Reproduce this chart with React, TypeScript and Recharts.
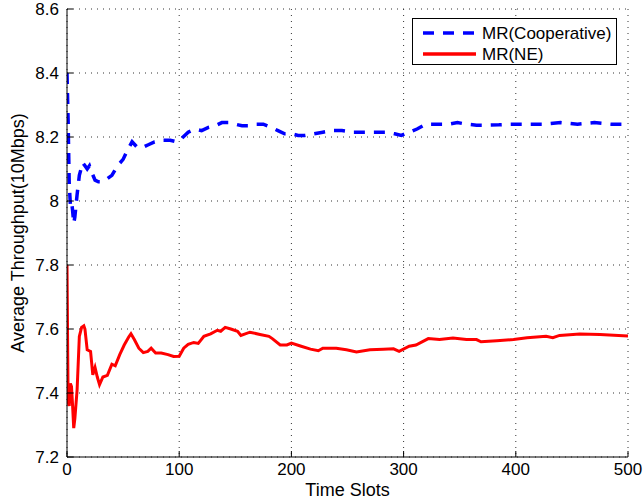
import React from 'react';
import { LineChart, Line, XAxis, YAxis, CartesianGrid } from 'recharts';

const coopTime = [0, 1, 2, 3, 4, 5, 6, 7, 9, 11, 14, 16, 18, 20, 22, 25, 28, 32, 36, 40, 45, 50, 54, 58, 62, 66, 72, 78, 85, 92, 98, 102, 108, 114, 120, 126, 132, 138, 144, 150, 156, 162, 168, 175, 182, 188, 194, 200, 206, 212, 220, 228, 236, 245, 255, 265, 275, 285, 292, 298, 305, 312, 320, 330, 340, 348, 356, 365, 375, 385, 395, 410, 425, 440, 455, 470, 485, 500];
const coopValue = [8.4, 8.25, 8.05, 7.99, 8.0, 7.97, 7.93, 7.95, 8.02, 8.08, 8.12, 8.11, 8.1, 8.11, 8.09, 8.065, 8.06, 8.06, 8.07, 8.08, 8.11, 8.13, 8.16, 8.185, 8.17, 8.165, 8.175, 8.185, 8.19, 8.19, 8.185, 8.195, 8.215, 8.225, 8.22, 8.23, 8.235, 8.245, 8.245, 8.24, 8.235, 8.235, 8.24, 8.24, 8.23, 8.22, 8.21, 8.21, 8.205, 8.205, 8.21, 8.215, 8.22, 8.22, 8.215, 8.215, 8.215, 8.215, 8.21, 8.205, 8.215, 8.225, 8.24, 8.24, 8.24, 8.245, 8.24, 8.237, 8.237, 8.238, 8.24, 8.24, 8.24, 8.245, 8.24, 8.245, 8.24, 8.24];

const neTime = [0, 1, 2, 3, 4, 5, 6, 7, 9, 11, 13, 15, 16, 18, 21, 23, 25, 27, 29, 32, 36, 40, 43, 47, 51, 55, 57, 60, 64, 68, 72, 75, 79, 84, 90, 95, 100, 104, 108, 113, 117, 122, 128, 134, 137, 141, 146, 152, 155, 163, 172, 180, 183, 190, 196, 200, 208, 217, 224, 228, 240, 249, 258, 270, 282, 291, 296, 305, 311, 322, 332, 344, 356, 365, 369, 383, 398, 410, 427, 433, 439, 457, 475, 500];
const neValue = [7.8, 7.37, 7.36, 7.43, 7.42, 7.36, 7.29, 7.32, 7.41, 7.577, 7.605, 7.61, 7.6, 7.535, 7.53, 7.457, 7.48, 7.45, 7.426, 7.45, 7.455, 7.49, 7.485, 7.52, 7.55, 7.575, 7.585, 7.567, 7.54, 7.526, 7.53, 7.54, 7.525, 7.525, 7.52, 7.514, 7.515, 7.54, 7.552, 7.558, 7.555, 7.577, 7.585, 7.596, 7.593, 7.605, 7.6, 7.593, 7.58, 7.59, 7.583, 7.577, 7.57, 7.55, 7.55, 7.556, 7.547, 7.537, 7.532, 7.54, 7.54, 7.535, 7.528, 7.535, 7.537, 7.538, 7.53, 7.546, 7.55, 7.57, 7.567, 7.572, 7.567, 7.567, 7.56, 7.563, 7.567, 7.573, 7.577, 7.573, 7.58, 7.584, 7.583, 7.578];

const xTicks = [0, 100, 200, 300, 400, 500];
const yTicks = [7.2, 7.4, 7.6, 7.8, 8.0, 8.2, 8.4, 8.6];
const seriesNames = ['MR(Cooperative)', 'MR(NE)'];

const coopData = coopTime.map((t, i) => ({ t, v: coopValue[i] }));
const neData = neTime.map((t, i) => ({ t, v: neValue[i] }));

const FONT = '"Liberation Sans", Arial, Helvetica, sans-serif';
const fmtY = (v: number) => (Math.abs(v - 8) < 1e-9 ? '8' : v.toFixed(1));

const LeftTick = (props: any) => {
  const { x, y, payload } = props;
  return (
    <g>
      <text x={x} y={y} dy="0.36em" textAnchor="end" fontSize={17} fontFamily={FONT} fill="#000">{fmtY(payload.value)}</text>
      <line x1={x + 8} x2={x + 14} y1={y} y2={y} stroke="#000" />
    </g>
  );
};
const RightTick = (props: any) => {
  const { x, y } = props;
  return <line x1={x} x2={x - 6} y1={y} y2={y} stroke="#000" />;
};
const BottomTick = (props: any) => {
  const { x, y, payload } = props;
  return (
    <g>
      <text x={x} y={y} dy="0.75em" textAnchor="middle" fontSize={17} fontFamily={FONT} fill="#000">{payload.value}</text>
      <line x1={x} x2={x} y1={y - 5} y2={y - 11} stroke="#000" />
    </g>
  );
};
const TopTick = (props: any) => {
  const { x, y } = props;
  return <line x1={x} x2={x} y1={y} y2={y + 6} stroke="#000" />;
};

const LegendBox = () => (
  <div style={{ position: 'absolute', left: 412, top: 18, width: 205, height: 47, boxSizing: 'border-box', border: '1px solid #000', background: '#fff' }}>
    <svg width={203} height={45} style={{ position: 'absolute', left: 0, top: 0 }}>
      <line x1={10} x2={63} y1={14} y2={14} stroke="#0000ff" strokeWidth={3.5} strokeDasharray="11 9" />
      <line x1={10} x2={63} y1={35} y2={35} stroke="#ff0000" strokeWidth={3.5} />
      <text x={69} y={14} dy="0.36em" fontSize={17} fontFamily={FONT} fill="#000">{seriesNames[0]}</text>
      <text x={69} y={35} dy="0.36em" fontSize={17} fontFamily={FONT} fill="#000">{seriesNames[1]}</text>
    </svg>
  </div>
);

export default function App() {
  return (
    <div style={{ position: 'absolute', left: 0, top: 0, width: 644, height: 503, background: '#fff' }}>
      <LineChart width={644} height={503} margin={{ top: 9, right: 16, bottom: 0, left: 0 }}>
        <CartesianGrid stroke="#333" strokeDasharray="1 5" xAxisId="b" yAxisId="l" />
        <XAxis xAxisId="b" dataKey="t" type="number" domain={[0, 500]} ticks={xTicks} height={46} tickSize={0} tickMargin={5} tickLine={false} tick={<BottomTick />} axisLine={{ stroke: '#000' }} allowDataOverflow
          label={{ value: 'Time Slots', position: 'insideBottom', offset: 7, fontSize: 18, fontFamily: FONT, fill: '#000' }} />
        <XAxis xAxisId="tp" orientation="top" dataKey="t" type="number" domain={[0, 500]} ticks={xTicks} height={0} tickSize={0} tickMargin={0} tickLine={false} tick={<TopTick />} axisLine={{ stroke: '#000' }} />
        <YAxis yAxisId="l" type="number" domain={[7.2, 8.6]} ticks={yTicks} width={67} tickSize={0} tickMargin={8} tickLine={false} tick={<LeftTick />} axisLine={{ stroke: '#000' }} allowDataOverflow
          label={{ value: 'Average Throughput(10Mbps)', angle: -90, position: 'insideLeft', offset: 18, fontSize: 18, fontFamily: FONT, fill: '#000', style: { textAnchor: 'middle' } }} />
        <YAxis yAxisId="r" orientation="right" type="number" domain={[7.2, 8.6]} ticks={yTicks} width={0} tickSize={0} tickMargin={0} tickLine={false} tick={<RightTick />} axisLine={{ stroke: '#000' }} />
        <Line xAxisId="b" yAxisId="l" data={coopData} dataKey="v" name={seriesNames[0]} type="linear" stroke="#0000ff" strokeWidth={3.5} strokeDasharray="11 9" dot={false} isAnimationActive={false} />
        <Line xAxisId="b" yAxisId="l" data={neData} dataKey="v" name={seriesNames[1]} type="linear" stroke="#ff0000" strokeWidth={3} dot={false} isAnimationActive={false} />
      </LineChart>
      <LegendBox />
    </div>
  );
}
